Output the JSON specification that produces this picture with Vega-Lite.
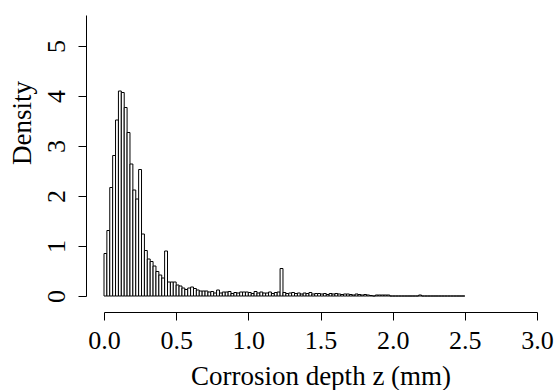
{
  "$schema": "https://vega.github.io/schema/vega-lite/v6.json",
  "width": 433,
  "height": 281,
  "autosize": {"type": "none"},
  "padding": {"left": 104, "top": 15, "right": 21, "bottom": 94},
  "background": "white",
  "config": {"view": {"stroke": null}, "font": "Liberation Serif"},
  "data": {"values": [
    {"start":0.00,"end":0.02,"density":0.85},
    {"start":0.02,"end":0.04,"density":1.31},
    {"start":0.04,"end":0.06,"density":2.17},
    {"start":0.06,"end":0.08,"density":2.81},
    {"start":0.08,"end":0.10,"density":3.52},
    {"start":0.10,"end":0.12,"density":4.10},
    {"start":0.12,"end":0.14,"density":4.07},
    {"start":0.14,"end":0.16,"density":3.77},
    {"start":0.16,"end":0.18,"density":3.27},
    {"start":0.18,"end":0.20,"density":2.64},
    {"start":0.20,"end":0.22,"density":2.12},
    {"start":0.22,"end":0.24,"density":1.94},
    {"start":0.24,"end":0.26,"density":2.53},
    {"start":0.26,"end":0.28,"density":1.24},
    {"start":0.28,"end":0.30,"density":0.91},
    {"start":0.30,"end":0.32,"density":0.74},
    {"start":0.32,"end":0.34,"density":0.69},
    {"start":0.34,"end":0.36,"density":0.60},
    {"start":0.36,"end":0.38,"density":0.49},
    {"start":0.38,"end":0.40,"density":0.42},
    {"start":0.40,"end":0.42,"density":0.36},
    {"start":0.42,"end":0.44,"density":0.90},
    {"start":0.44,"end":0.46,"density":0.28},
    {"start":0.46,"end":0.48,"density":0.28},
    {"start":0.48,"end":0.50,"density":0.28},
    {"start":0.50,"end":0.52,"density":0.22},
    {"start":0.52,"end":0.54,"density":0.20},
    {"start":0.54,"end":0.56,"density":0.16},
    {"start":0.56,"end":0.58,"density":0.13},
    {"start":0.58,"end":0.60,"density":0.16},
    {"start":0.60,"end":0.62,"density":0.18},
    {"start":0.62,"end":0.64,"density":0.15},
    {"start":0.64,"end":0.66,"density":0.12},
    {"start":0.66,"end":0.68,"density":0.10},
    {"start":0.68,"end":0.70,"density":0.10},
    {"start":0.70,"end":0.72,"density":0.10},
    {"start":0.72,"end":0.74,"density":0.08},
    {"start":0.74,"end":0.76,"density":0.09},
    {"start":0.76,"end":0.78,"density":0.06},
    {"start":0.78,"end":0.80,"density":0.12},
    {"start":0.80,"end":0.82,"density":0.06},
    {"start":0.82,"end":0.84,"density":0.08},
    {"start":0.84,"end":0.86,"density":0.08},
    {"start":0.86,"end":0.88,"density":0.09},
    {"start":0.88,"end":0.90,"density":0.05},
    {"start":0.90,"end":0.92,"density":0.07},
    {"start":0.92,"end":0.94,"density":0.06},
    {"start":0.94,"end":0.96,"density":0.08},
    {"start":0.96,"end":0.98,"density":0.08},
    {"start":0.98,"end":1.00,"density":0.08},
    {"start":1.00,"end":1.02,"density":0.07},
    {"start":1.02,"end":1.04,"density":0.05},
    {"start":1.04,"end":1.06,"density":0.09},
    {"start":1.06,"end":1.08,"density":0.06},
    {"start":1.08,"end":1.10,"density":0.08},
    {"start":1.10,"end":1.12,"density":0.06},
    {"start":1.12,"end":1.14,"density":0.06},
    {"start":1.14,"end":1.16,"density":0.08},
    {"start":1.16,"end":1.18,"density":0.05},
    {"start":1.18,"end":1.20,"density":0.07},
    {"start":1.20,"end":1.22,"density":0.08},
    {"start":1.22,"end":1.24,"density":0.55},
    {"start":1.24,"end":1.26,"density":0.07},
    {"start":1.26,"end":1.28,"density":0.05},
    {"start":1.28,"end":1.30,"density":0.06},
    {"start":1.30,"end":1.32,"density":0.07},
    {"start":1.32,"end":1.34,"density":0.05},
    {"start":1.34,"end":1.36,"density":0.06},
    {"start":1.36,"end":1.38,"density":0.04},
    {"start":1.38,"end":1.40,"density":0.06},
    {"start":1.40,"end":1.42,"density":0.05},
    {"start":1.42,"end":1.44,"density":0.07},
    {"start":1.44,"end":1.46,"density":0.04},
    {"start":1.46,"end":1.48,"density":0.05},
    {"start":1.48,"end":1.50,"density":0.05},
    {"start":1.50,"end":1.52,"density":0.04},
    {"start":1.52,"end":1.54,"density":0.05},
    {"start":1.54,"end":1.56,"density":0.03},
    {"start":1.56,"end":1.58,"density":0.05},
    {"start":1.58,"end":1.60,"density":0.04},
    {"start":1.60,"end":1.62,"density":0.05},
    {"start":1.62,"end":1.64,"density":0.04},
    {"start":1.64,"end":1.66,"density":0.03},
    {"start":1.66,"end":1.68,"density":0.04},
    {"start":1.68,"end":1.70,"density":0.04},
    {"start":1.70,"end":1.72,"density":0.03},
    {"start":1.72,"end":1.74,"density":0.02},
    {"start":1.74,"end":1.76,"density":0.04},
    {"start":1.76,"end":1.78,"density":0.03},
    {"start":1.78,"end":1.80,"density":0.02},
    {"start":1.80,"end":1.82,"density":0.03},
    {"start":1.82,"end":1.84,"density":0.02},
    {"start":1.84,"end":1.86,"density":0.01},
    {"start":1.86,"end":1.88,"density":0},
    {"start":1.88,"end":1.90,"density":0.02},
    {"start":1.90,"end":1.92,"density":0.02},
    {"start":1.92,"end":1.94,"density":0.02},
    {"start":1.94,"end":1.96,"density":0.02},
    {"start":1.96,"end":1.98,"density":0.02},
    {"start":1.98,"end":2.00,"density":0},
    {"start":2.00,"end":2.02,"density":0},
    {"start":2.02,"end":2.04,"density":0},
    {"start":2.04,"end":2.06,"density":0},
    {"start":2.06,"end":2.08,"density":0},
    {"start":2.08,"end":2.10,"density":0},
    {"start":2.10,"end":2.12,"density":0},
    {"start":2.12,"end":2.14,"density":0},
    {"start":2.14,"end":2.16,"density":0},
    {"start":2.16,"end":2.18,"density":0},
    {"start":2.18,"end":2.20,"density":0.02},
    {"start":2.20,"end":2.22,"density":0},
    {"start":2.22,"end":2.24,"density":0},
    {"start":2.24,"end":2.26,"density":0},
    {"start":2.26,"end":2.28,"density":0},
    {"start":2.28,"end":2.30,"density":0},
    {"start":2.30,"end":2.32,"density":0},
    {"start":2.32,"end":2.34,"density":0},
    {"start":2.34,"end":2.36,"density":0},
    {"start":2.36,"end":2.38,"density":0},
    {"start":2.38,"end":2.40,"density":0},
    {"start":2.40,"end":2.42,"density":0},
    {"start":2.42,"end":2.44,"density":0},
    {"start":2.44,"end":2.46,"density":0},
    {"start":2.46,"end":2.48,"density":0},
    {"start":2.48,"end":2.50,"density":0}
  ]},
  "mark": {"type": "bar", "fill": "white", "stroke": "black", "strokeWidth": 1},
  "encoding": {
    "x": {
      "field": "start", "type": "quantitative",
      "scale": {"domain": [0, 3], "nice": false, "zero": false},
      "axis": {
        "title": "Corrosion depth z (mm)",
        "values": [0, 0.5, 1, 1.5, 2, 2.5, 3],
        "format": ".1f",
        "grid": false,
        "offset": 16,
        "tickSize": 8,
        "tickColor": "black",
        "domainColor": "black",
        "labelFlush": false,
        "labelOverlap": false,
        "labelFontSize": 26,
        "labelColor": "black",
        "labelBaseline": "alphabetic",
        "labelPadding": 28,
        "titleFontSize": 27,
        "titleFontWeight": "normal",
        "titleColor": "black",
        "titleBaseline": "alphabetic",
        "titleX": 216.5,
        "titleY": 72
      }
    },
    "x2": {"field": "end"},
    "y": {
      "field": "density", "type": "quantitative",
      "scale": {"domain": [0, 5.62], "nice": false},
      "axis": {
        "title": "Density",
        "values": [0, 1, 2, 3, 4, 5],
        "grid": false,
        "offset": 18,
        "tickSize": 8,
        "tickColor": "black",
        "domainColor": "black",
        "labelAngle": 270,
        "labelAlign": "center",
        "labelBaseline": "alphabetic",
        "labelPadding": 14,
        "labelFontSize": 26,
        "labelColor": "black",
        "labelOverlap": false,
        "labelFlush": false,
        "titleFontSize": 27,
        "titleFontWeight": "normal",
        "titleColor": "black",
        "titleAngle": 270,
        "titleAlign": "center",
        "titleBaseline": "alphabetic",
        "titleX": -56,
        "titleY": 107.5
      }
    },
    "y2": {"datum": 0}
  }
}
